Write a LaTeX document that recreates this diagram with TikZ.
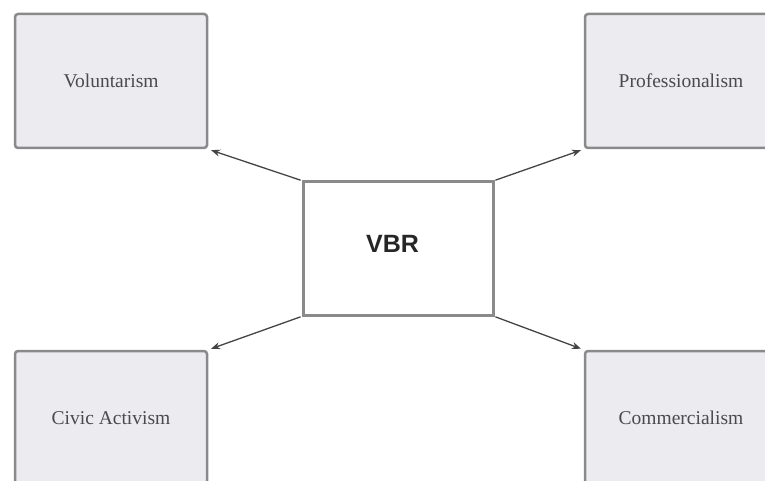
\documentclass[tikz,border=0pt]{standalone}
\usepackage{fontspec}
\setmainfont{Liberation Serif}
\setsansfont{Liberation Sans}
\usetikzlibrary{arrows.meta}
\definecolor{boxfill}{HTML}{ECEBF0}
\definecolor{boxline}{HTML}{8A8A8A}
\definecolor{labtext}{HTML}{4A4A4A}
\definecolor{arrowcol}{HTML}{444444}
\tikzset{
  outerbox/.style={draw=boxline, fill=boxfill, line width=2.5pt, rounded corners=3pt,
    minimum width=192pt, minimum height=134pt, inner sep=0pt,
    font=\fontsize{19.5}{22}\selectfont, text=labtext},
  centerbox/.style={draw=boxline, fill=white, line width=3pt,
    minimum width=190pt, minimum height=133pt, inner sep=0pt},
  centerlabel/.style={font=\sffamily\bfseries\fontsize{25}{28}\selectfont, text=black!85},
  link/.style={draw=arrowcol, line width=1.3pt, -{Stealth[length=9pt,width=7pt]}, shorten >=3pt, shorten <=1pt}
}
\begin{document}
\begin{tikzpicture}[x=1pt,y=-1pt]
\useasboundingbox (0,0) rectangle (765,481);
\clip (0,0) rectangle (765,481);
\node[outerbox] (vol) at (111,81) {Voluntarism};
\node[outerbox] (pro) at (681,81) {Professionalism};
\node[outerbox] (civ) at (111,418) {Civic Activism};
\node[outerbox] (com) at (681,418) {Commercialism};
\node[centerbox, label={[centerlabel, xshift=-5.5pt, yshift=5pt]center:VBR}] (vbr) at (398,248.5) {};
\draw[link] (vbr.north west) -- (vol.south east);
\draw[link] (vbr.north east) -- (pro.south west);
\draw[link] (vbr.south west) -- (civ.north east);
\draw[link] (vbr.south east) -- (com.north west);
\end{tikzpicture}
\end{document}
